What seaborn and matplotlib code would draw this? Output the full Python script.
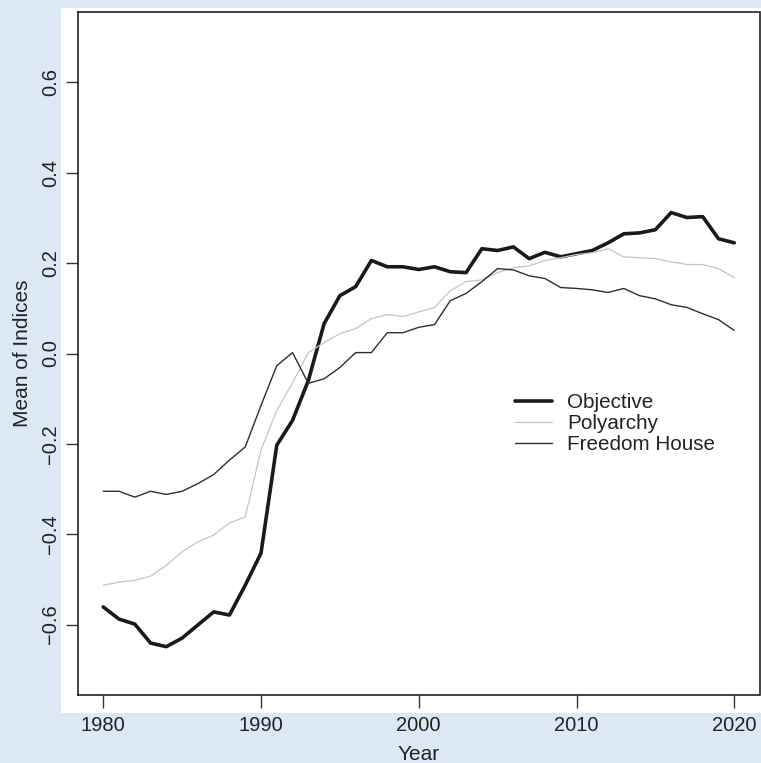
import numpy as np
import pandas as pd
import matplotlib
matplotlib.use("Agg")
import matplotlib.pyplot as plt
import seaborn as sns
from matplotlib.patches import Rectangle
from matplotlib.lines import Line2D

years = list(range(1980, 2021))

objective = [-0.561, -0.588, -0.599, -0.641, -0.649, -0.630, -0.601, -0.572, -0.579, -0.513,
             -0.442, -0.203, -0.148, -0.060, 0.066, 0.128, 0.148, 0.206, 0.192, 0.192,
             0.186, 0.192, 0.181, 0.179, 0.232, 0.228, 0.236, 0.210, 0.224, 0.214,
             0.221, 0.228, 0.245, 0.265, 0.267, 0.274, 0.312, 0.301, 0.303, 0.254,
             0.245]

polyarchy = [-0.513, -0.506, -0.502, -0.493, -0.469, -0.439, -0.417, -0.402, -0.375, -0.362,
             -0.214, -0.126, -0.065, 0.002, 0.024, 0.044, 0.055, 0.077, 0.086, 0.082,
             0.092, 0.102, 0.139, 0.159, 0.163, 0.179, 0.190, 0.194, 0.206, 0.212,
             0.219, 0.223, 0.232, 0.214, 0.212, 0.210, 0.203, 0.197, 0.197, 0.188,
             0.168]

freedom_house = [-0.305, -0.305, -0.318, -0.305, -0.312, -0.305, -0.288, -0.268, -0.236, -0.207,
                 -0.115, -0.027, 0.002, -0.066, -0.056, -0.031, 0.002, 0.002, 0.046, 0.046,
                 0.058, 0.064, 0.117, 0.133, 0.159, 0.188, 0.185, 0.172, 0.166, 0.146,
                 0.144, 0.141, 0.135, 0.144, 0.128, 0.121, 0.108, 0.102, 0.088, 0.075,
                 0.051]

series_names = ["Objective", "Polyarchy", "Freedom House"]
x_ticks = [1980, 1990, 2000, 2010, 2020]
y_ticks = [-0.6, -0.4, -0.2, 0.0, 0.2, 0.4, 0.6]
y_tick_labels = ["\u22120.6", "\u22120.4", "\u22120.2", "0.0", "0.2", "0.4", "0.6"]

df = pd.DataFrame({
    "Year": years * 3,
    "Value": objective + polyarchy + freedom_house,
    "Index": [series_names[0]] * len(years) + [series_names[1]] * len(years) + [series_names[2]] * len(years),
})

sns.set_style("white")
plt.rcParams["font.family"] = ["Liberation Sans", "DejaVu Sans"]

W, H = 761, 763
fig = plt.figure(figsize=(W / 100, H / 100), dpi=100)
fig.patch.set_facecolor("#dde8f6")

# white panel behind the plot
fig.patches.append(Rectangle((61 / W, 1 - 713 / H), 700 / W, 705 / H,
                             transform=fig.transFigure, facecolor="white",
                             edgecolor="none", zorder=-10))

ax = fig.add_axes([78 / W, 1 - 695 / H, 681.5 / W, 683 / H])
ax.set_facecolor("white")

styles = {
    "Objective": dict(color="#1a1a1a", lw=2.6),
    "Polyarchy": dict(color="#c4c4c4", lw=0.9),
    "Freedom House": dict(color="#2e2e2e", lw=1.0),
}
for name in series_names:
    sub = df[df["Index"] == name]
    sns.lineplot(data=sub, x="Year", y="Value", ax=ax, color=styles[name]["color"],
                 linewidth=styles[name]["lw"], legend=False)

ax.set_xlim(1978.4, 2021.6)
ax.set_ylim(-0.756, 0.756)
ax.set_xticks(x_ticks)
ax.set_xticklabels([str(t) for t in x_ticks], fontsize=14.5, color="#222222")
ax.set_yticks(y_ticks)
ax.set_yticklabels(y_tick_labels, fontsize=14.5, rotation=90, va="center", color="#222222")
ax.tick_params(axis="both", direction="out", length=9, width=1.0, color="#333333",
               bottom=True, left=True)
ax.tick_params(axis="x", pad=6)
ax.tick_params(axis="y", pad=3.8)

for s in ax.spines.values():
    s.set_visible(True)
    s.set_color("#222222")
    s.set_linewidth(1.2)

ax.set_xlabel("Year", fontsize=15, color="#222222", labelpad=7)
ax.set_ylabel("Mean of Indices", fontsize=15, color="#222222", labelpad=6.5)

handles = [Line2D([0], [0], color=styles[n]["color"], lw=styles[n]["lw"]) for n in series_names]
leg = ax.legend(handles, series_names, loc="upper left",
                bbox_to_anchor=(515 / W, 1 - 393 / H), bbox_transform=fig.transFigure,
                frameon=False, fontsize=14.9, handlelength=1.8, handletextpad=0.72,
                labelspacing=0.1, borderpad=0, borderaxespad=0)
for t in leg.get_texts():
    t.set_color("#222222")

fig.savefig("out.png", dpi=100, facecolor=fig.get_facecolor())
